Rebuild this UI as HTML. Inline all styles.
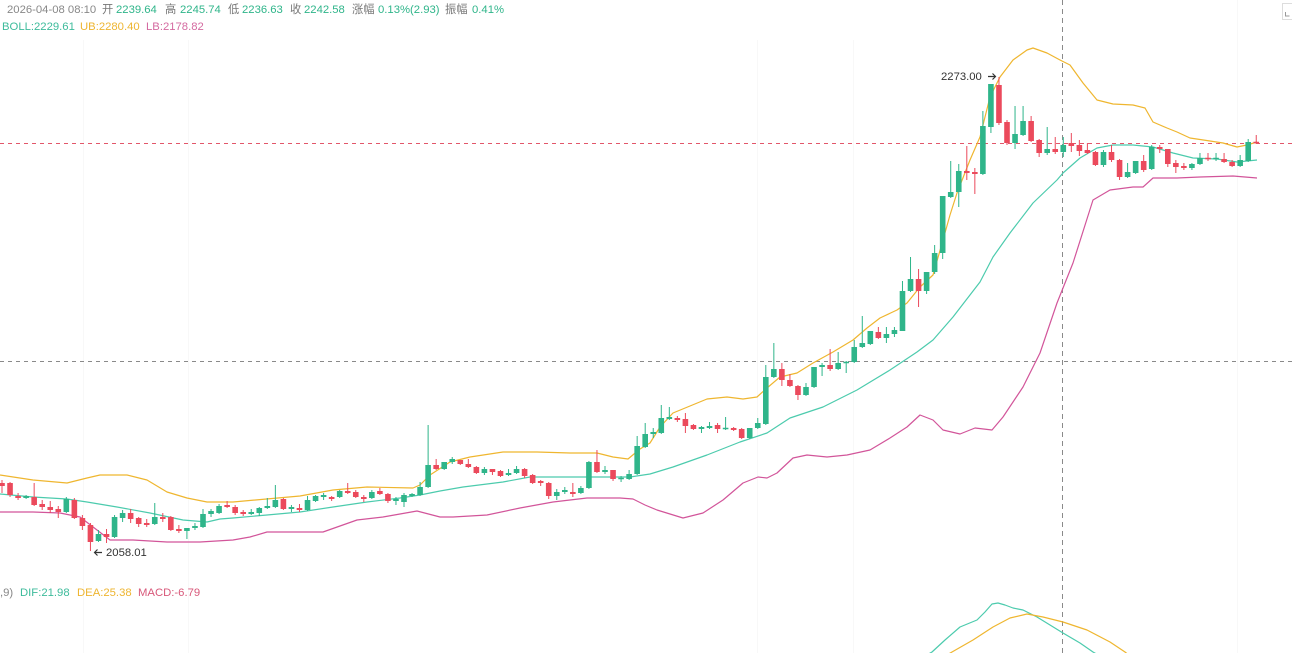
<!DOCTYPE html>
<html><head><meta charset="utf-8">
<style>
html,body{margin:0;padding:0;background:#fff;width:1292px;height:653px;overflow:hidden}
svg{display:block}
text{font-family:"Liberation Sans","Noto Sans CJK SC",sans-serif}
</style></head>
<body>
<svg id="c" width="1292" height="653" viewBox="0 0 1292 653" xmlns="http://www.w3.org/2000/svg">
<g stroke="#f8f8f8" stroke-width="1">
<line x1="83.5" y1="40" x2="83.5" y2="653"/>
<line x1="188.5" y1="40" x2="188.5" y2="653"/>
<line x1="757.5" y1="40" x2="757.5" y2="653"/>
<line x1="853.5" y1="40" x2="853.5" y2="653"/>
<line x1="1237.5" y1="0" x2="1237.5" y2="653"/>
</g>
<g font-size="11.3">
<text x="7" y="13" fill="#888">2026-04-08 08:10</text>
<text x="102" y="13" fill="#777">开</text><text x="116" y="13" fill="#2fb58a">2239.64</text>
<text x="165" y="13" fill="#777">高</text><text x="180" y="13" fill="#2fb58a">2245.74</text>
<text x="228" y="13" fill="#777">低</text><text x="242" y="13" fill="#2fb58a">2236.63</text>
<text x="290" y="13" fill="#777">收</text><text x="304" y="13" fill="#2fb58a">2242.58</text>
<text x="352" y="13" fill="#777">涨幅</text><text x="378" y="13" fill="#2fb58a">0.13%(2.93)</text>
<text x="445" y="13" fill="#777">振幅</text><text x="472" y="13" fill="#2fb58a">0.41%</text>
<text x="2" y="30" fill="#3dbb9b">BOLL:2229.61</text>
<text x="80" y="30" fill="#eeb530">UB:2280.40</text>
<text x="146" y="30" fill="#d46aa0">LB:2178.82</text>
<text x="0" y="596" fill="#888">,9)</text>
<text x="20" y="596" fill="#3dbb9b">DIF:21.98</text>
<text x="77" y="596" fill="#eeb530">DEA:25.38</text>
<text x="138" y="596" fill="#d8587a">MACD:-6.79</text>
</g>
<rect x="1282.5" y="3.5" width="10" height="16" fill="#fff" stroke="#ddd"/>
<path d="M1285.5 12v4h4" fill="none" stroke="#999" stroke-width="1"/>
<line x1="0" y1="143.5" x2="1292" y2="143.5" stroke="#e2566a" stroke-width="1" stroke-dasharray="4 4"/>
<line x1="0" y1="361.5" x2="1292" y2="361.5" stroke="#8a8a8a" stroke-width="1" stroke-dasharray="4 4"/>
<line x1="1062.5" y1="0" x2="1062.5" y2="653" stroke="#8a8a8a" stroke-width="1" stroke-dasharray="5 4"/>
<g id="bands" fill="none" stroke-width="1.2" stroke-linejoin="round"></g>
<g id="candles"></g>
<g id="macd" fill="none" stroke-width="1.2" stroke-linejoin="round"></g>
<text x="941" y="80" font-size="11.3" fill="#333">2273.00</text>
<path d="M988 76.5h7.5M992.5 73.5l3 3-3 3" fill="none" stroke="#333" stroke-width="1.2"/>
<path d="M102 552.5h-7.5M97.5 549.5l-3 3 3 3" fill="none" stroke="#333" stroke-width="1.2"/>
<text x="106" y="556" font-size="11.3" fill="#333">2058.01</text>
</svg>
<script>
(function(){
var NS="http://www.w3.org/2000/svg";
var d=[
"R 480 483 486 493","R 482 483 495 497","R 493 496 498 500","G 495 496 498 499","R 483 497 505 506",
"R 500 504 507 510","R 501 507 510 513","R 506 509 512 518","G 497 499 512 513","R 498 500 518 519",
"R 515 518 526 530","R 523 525 542 551","G 530 534 541 542","R 529 534 537 543","G 515 517 537 538",
"G 510 513 518 522","R 509 513 519 523","R 517 518 524 527","R 519 523 525 527","G 503 517 524 525",
"R 513 517 519 522","R 516 517 530 531","R 525 529 531 533","G 528 528 531 539","G 523 526 528 530",
"G 509 514 527 528","G 509 511 514 517","G 504 506 513 514","R 501 505 507 508","R 505 507 513 515",
"R 510 512 514 516","G 509 512 514 515","G 507 508 513 516","G 498 506 508 509","G 485 500 507 508",
"R 498 499 509 510","G 505 507 509 512","R 504 508 510 512","G 496 500 510 511","G 495 496 501 502",
"G 493 495 497 500","R 496 497 499 501","G 490 491 497 498","R 483 491 493 494","R 490 492 497 498",
"R 495 497 499 502","G 490 492 498 499","R 488 491 494 495","R 493 494 501 503","G 497 499 501 505",
"G 493 495 502 507","G 493 494 496 497","G 482 487 495 496","G 425 465 487 488","R 459 465 469 470",
"G 462 462 469 470","G 457 459 462 464","R 460 460 464 465","R 459 464 467 468","R 466 467 473 474",
"G 467 469 473 475","R 469 469 472 475","R 470 471 476 477","G 469 473 475 476","G 466 469 473 474",
"R 468 469 476 478","R 474 475 483 484","R 480 481 483 486","R 482 483 496 499","G 489 492 496 500",
"G 487 490 492 494","R 483 492 494 497","G 486 488 493 494","G 461 462 488 489","R 450 462 472 473",
"G 466 470 472 474","R 470 470 479 481","G 476 478 479 482","G 470 474 479 480","G 436 446 474 475",
"G 423 434 447 448","G 428 432 434 438","G 405 418 433 434","G 407 417 419 420","R 416 418 420 422",
"R 413 419 426 433","R 424 425 429 430","G 426 427 429 433","G 422 426 428 429","R 423 425 429 433",
"G 417 428 429 430","R 427 428 430 431","R 428 429 438 439","G 428 428 438 439","G 418 423 428 429",
"G 365 377 424 425","G 343 369 377 378","R 363 369 380 386","R 374 380 386 387","R 385 386 395 400",
"G 383 387 395 396","G 367 367 387 388","G 363 365 367 376","R 349 365 369 371","G 352 363 369 370",
"G 361 362 363 373","G 340 347 362 363","G 316 343 347 348","G 331 331 344 345","R 327 332 338 339",
"G 327 334 338 343","G 327 330 334 337","G 281 291 331 331","G 257 279 291 292","R 269 279 291 307",
"G 272 272 291 294","G 245 253 272 274","G 196 196 253 259","G 161 192 197 198","G 164 171 192 207",
"R 146 171 173 180","R 168 172 174 194","G 111 126 174 175","G 84 84 127 133","R 77 85 123 125",
"R 120 122 143 145","G 106 134 143 149","G 106 121 135 136","R 116 121 141 142","R 139 140 153 157",
"G 127 149 153 155","R 137 149 152 154","G 137 145 152 157","R 133 143 146 152","R 140 145 151 156",
"R 143 150 153 154","R 151 152 165 166","G 150 152 165 167","R 145 152 160 162","R 159 160 177 180",
"G 163 172 177 178","G 161 161 173 174","R 155 161 170 172","G 145 147 169 170","R 145 147 149 153",
"R 149 149 164 167","R 160 163 167 173","R 163 166 168 170","G 163 164 168 170","G 153 158 164 165",
"R 153 158 159 161","G 153 158 159 161","R 153 159 162 163","R 160 162 166 167","G 155 160 166 167",
"G 139 142 161 162","R 135 142 143 144"];
var g=document.getElementById("candles");
var col={G:"#2fb58a",R:"#eb4a5c"};
var ph={G:"",R:""};
for(var i=0;i<d.length;i++){
 var p=d[i].split(" ");var c=p[0],H=+p[1],T=+p[2],B=+p[3],L=+p[4];
 var x=2+i*8.04;
 if(B-T<1.2){var m=(T+B)/2;T=m-0.7;B=m+0.7;}
 ph[c]+="M"+(x-0.5).toFixed(2)+" "+H+"h1V"+L+"h-1Z";
 ph[c]+="M"+(x-2.8).toFixed(2)+" "+T+"h5.6V"+B+"h-5.6Z";
}
for(var k in ph){var e=document.createElementNS(NS,"path");e.setAttribute("d",ph[k]);e.setAttribute("fill",col[k]);g.appendChild(e);}
function line(par,pts,color){var e=document.createElementNS(NS,"polyline");e.setAttribute("points",pts);e.setAttribute("stroke",color);par.appendChild(e);}
var b=document.getElementById("bands");
line(b,"0,475 33,480 67,483 87,478 100,475 127,475 147,480 167,492 187,498 207,502 233,502 300,496 333,490 367,487 413,488 420,485 430,475 450,462 470,457 503,452 537,452 570,453 597,453 613,457 628,459 640,449 650,443 660,427 673,413 707,399 727,397 743,399 757,397 767,388 780,377 797,373 813,363 833,352 853,340 867,328 880,318 897,310 907,303 920,287 933,275 943,240 950,215 957,193 970,160 980,137 990,97 997,83 1000,77 1013,60 1027,50 1033,48 1047,53 1060,60 1070,65 1083,83 1097,100 1113,104 1133,105 1145,108 1153,122 1167,128 1177,132 1190,138 1210,141 1223,143 1237,147 1247,145 1257,142","#efb62f");
line(b,"0,494 33,497 67,499 87,502 117,507 150,513 183,520 207,522 220,519 233,518 267,515 300,512 333,507 367,502 400,498 420,495 440,491 463,487 503,482 530,477 570,477 603,477 630,477 650,474 673,467 707,455 740,442 767,433 790,418 823,407 857,390 890,370 917,352 933,340 953,317 980,282 993,257 1010,233 1033,203 1057,180 1063,173 1080,158 1097,148 1113,145 1133,145 1153,147 1173,153 1193,158 1217,159 1237,162 1257,160","#4ccbad");
line(b,"0,512 33,512 60,513 80,517 97,530 110,540 133,540 167,542 200,542 233,540 250,537 267,532 300,532 323,532 357,520 383,517 417,511 440,517 453,517 487,515 520,508 553,502 587,498 620,498 633,499 645,505 657,510 683,518 703,513 723,500 743,483 758,477 767,478 777,473 793,458 807,455 827,457 847,455 870,450 890,438 907,427 920,415 933,420 943,430 960,434 975,428 992,430 1003,417 1023,387 1040,353 1057,303 1073,263 1093,200 1110,190 1133,187 1143,187 1153,178 1177,178 1200,177 1233,176 1257,178","#d2559a");
var m=document.getElementById("macd");
line(m,"925,656 932,652 945,640 960,627 977,620 985,612 992,604 998,603 1005,605 1013,608 1023,610 1037,617 1050,625 1063,633 1080,643 1093,652 1100,656","#4ccbad");
line(m,"945,656 952,652 973,640 993,627 1010,618 1027,614 1043,617 1063,622 1087,630 1110,642 1125,652 1130,656","#efb62f");
})();
</script>
</body></html>
